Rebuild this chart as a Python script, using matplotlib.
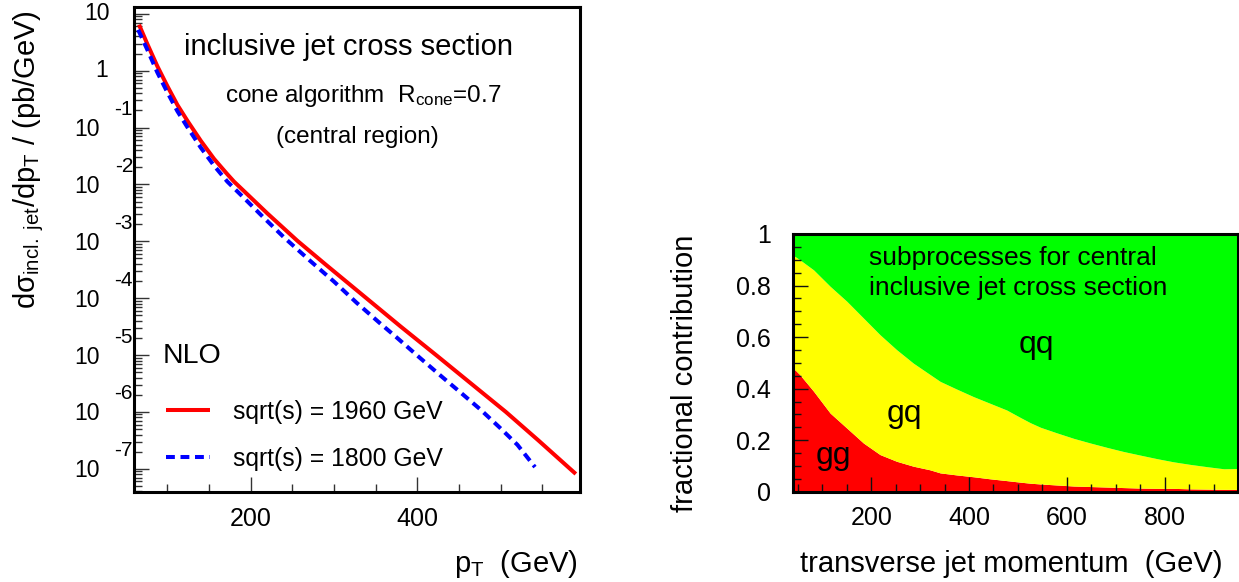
import matplotlib
matplotlib.use("Agg")
import matplotlib.pyplot as plt
import numpy as np
from matplotlib import transforms
from matplotlib.ticker import (MultipleLocator, LogLocator, NullFormatter,
                               FuncFormatter)

plt.rcParams['font.family'] = ['Liberation Sans', 'DejaVu Sans']
plt.rcParams['mathtext.fontset'] = 'custom'
plt.rcParams['mathtext.rm'] = 'Liberation Sans'
plt.rcParams['mathtext.it'] = 'Liberation Sans:italic'
plt.rcParams['mathtext.bf'] = 'Liberation Sans:bold'

# ---- inclusive jet cross section, NLO (pb/GeV) ----
pt_1960 = [66, 76, 88, 100, 112, 124, 140, 156, 172, 180, 200, 220, 256,
           290, 338, 380, 424, 465, 506, 545, 583, 590]
xsec_1960 = [6.46, 2.95, 1.20, 0.537, 0.251, 0.132, 0.0589, 0.0282, 0.0151,
             0.0112, 5.89e-3, 3.09e-3, 1.02e-3, 3.89e-4, 1.02e-4, 3.16e-5,
             9.55e-6, 3.09e-6, 1.0e-6, 3.16e-7, 1.0e-7, 8.1e-8]

pt_1800 = [65, 76, 88, 100, 112, 124, 140, 156, 172, 190, 215, 240, 271,
           300, 327, 355, 375, 403, 430, 451, 475, 499, 520, 541]
xsec_1800 = [5.25, 2.34, 0.933, 0.417, 0.195, 0.102, 0.0447, 0.0214, 0.0112,
             6.17e-3, 2.66e-3, 1.17e-3, 4.57e-4, 1.95e-4, 8.32e-5, 3.63e-5,
             2.04e-5, 8.91e-6, 4.07e-6, 2.24e-6, 1.12e-6, 5.25e-7, 2.63e-7,
             1.07e-7]

series_labels = ['sqrt(s) = 1960 GeV', 'sqrt(s) = 1800 GeV']
y_decades = [1, 0, -1, -2, -3, -4, -5, -6, -7]

# ---- subprocess fractions vs transverse jet momentum ----
frac_pt = [40, 44, 54, 82, 116, 150, 184, 218, 252, 286, 320, 341, 375, 409,
           443, 477, 505, 525, 546, 580, 614, 648, 682, 716, 750, 785, 818,
           852, 887, 921, 950]
frac_gg = [0.473, 0.473, 0.454, 0.39, 0.305, 0.247, 0.189, 0.144, 0.118,
           0.099, 0.085, 0.073, 0.065, 0.058, 0.050, 0.043, 0.037, 0.033,
           0.030, 0.026, 0.022, 0.020, 0.018, 0.016, 0.014, 0.013, 0.013,
           0.011, 0.010, 0.009, 0.009]
frac_gq = [0.442, 0.440, 0.446, 0.471, 0.492, 0.492, 0.485, 0.465, 0.433,
           0.400, 0.370, 0.355, 0.333, 0.311, 0.293, 0.274, 0.251, 0.235,
           0.220, 0.202, 0.185, 0.169, 0.154, 0.140, 0.128, 0.115, 0.103,
           0.095, 0.087, 0.080, 0.081]

W, H = 1239, 582
fig = plt.figure(figsize=(W / 100, H / 100), dpi=100)


def fx(px):
    return px / W


def fy(py):
    return 1 - py / H


FRAME_LW = 2.2

# ================= left panel =================
axL = fig.add_axes([fx(134), fy(492), (580 - 134) / W, (492 - 7) / H])
l1, = axL.plot(pt_1960, xsec_1960, color='#ff0000', lw=2.9,
               solid_capstyle='butt', solid_joinstyle='round')
l2, = axL.plot(pt_1800, xsec_1800, color='#0000ff', lw=2.9,
               dashes=(2.2, 1.4))
axL.set_yscale('log')
axL.set_xlim(60, 595)
axL.set_ylim(3.9e-8, 13.2)
axL.xaxis.set_major_locator(MultipleLocator(200))
axL.xaxis.set_minor_locator(MultipleLocator(50))
axL.yaxis.set_major_locator(LogLocator(base=10, numticks=30))
axL.yaxis.set_minor_locator(LogLocator(base=10, subs=np.arange(2, 10),
                                       numticks=30))
axL.yaxis.set_major_formatter(NullFormatter())
axL.yaxis.set_minor_formatter(NullFormatter())
axL.tick_params(which='both', direction='in', top=False, right=False,
                width=1.0, color='#333333')
axL.tick_params(which='major', length=10.5)
axL.tick_params(which='minor', length=5.5)
axL.tick_params(axis='x', labelsize=18, pad=10.5)
for s in axL.spines.values():
    s.set_linewidth(FRAME_LW)

# ROOT-style decade labels: mantissa with raised exponent
ytr = transforms.blended_transform_factory(fig.transFigure, axL.transData)
tr_m = transforms.offset_copy(ytr, fig=fig, y=-2, units='dots')
tr_e = transforms.offset_copy(ytr, fig=fig, y=18, units='dots')
for e in y_decades:
    v = 10.0 ** e
    if e == 1:
        axL.text(fx(110), v, '10', transform=ytr, ha='right', va='center',
                 fontsize=16.5)
    elif e == 0:
        axL.text(fx(108), v, '1', transform=ytr, ha='right', va='center',
                 fontsize=16.5)
    else:
        axL.text(fx(100), v, '10', transform=tr_m, ha='right', va='center',
                 fontsize=16.5)
        axL.text(fx(133), v, str(e), transform=tr_e, ha='right',
                 va='center', fontsize=15)

axL.text(0.482, 0.901, 'inclusive jet cross section', transform=axL.transAxes,
         ha='center', va='baseline', fontsize=21)
axL.text(0.204, 0.805, r'cone algorithm  R$_{\rm cone}$=0.7',
         transform=axL.transAxes, ha='left', va='baseline', fontsize=17.5)
axL.text(0.501, 0.719, '(central region)', transform=axL.transAxes,
         ha='center', va='baseline', fontsize=17.5)
axL.text(0.065, 0.265, 'NLO', transform=axL.transAxes, ha='left',
         va='baseline', fontsize=20.5)

leg = axL.legend([l1, l2], series_labels, loc='upper left',
                 bbox_to_anchor=(0.0717, 0.19), frameon=False,
                 fontsize=17.8, handlelength=1.78, handletextpad=0.93,
                 labelspacing=0.93, borderpad=0, borderaxespad=0)

fig.text(fx(29), fy(10),
         'd\u03c3$_{\\rm incl.\\ jet}$/dp$_{\\rm T}$ / (pb/GeV)',
         rotation=90, ha='center', va='top', fontsize=21)
fig.text(fx(578), fy(572), r'p$_{\rm T}$  (GeV)', ha='right',
         va='baseline', fontsize=21)

# ================= right panel =================
axR = fig.add_axes([fx(793), fy(491.7), (1238 - 793) / W,
                    (491.7 - 234) / H])
gg = np.array(frac_gg)
gq = np.array(frac_gq)
axR.fill_between(frac_pt, 0, gg, color='#ff0000', lw=0)
axR.fill_between(frac_pt, gg, gg + gq, color='#ffff00', lw=0)
axR.fill_between(frac_pt, gg + gq, 1, color='#00ff00', lw=0)
axR.set_xlim(40, 950)
axR.set_ylim(0, 1)
axR.xaxis.set_major_locator(MultipleLocator(200))
axR.xaxis.set_minor_locator(MultipleLocator(50))
axR.yaxis.set_major_locator(MultipleLocator(0.2))
axR.yaxis.set_minor_locator(MultipleLocator(0.05))
axR.yaxis.set_major_formatter(FuncFormatter(lambda v, p: '%g' % round(v, 2)))
axR.tick_params(which='both', direction='in', top=False, right=False,
                width=1.0, color='#111111')
axR.tick_params(which='major', length=10.5)
axR.tick_params(which='minor', length=5.5)
axR.tick_params(axis='x', labelsize=18, pad=10.5)
axR.tick_params(axis='y', labelsize=18, pad=16)
for s in axR.spines.values():
    s.set_linewidth(FRAME_LW)
    s.set_zorder(5)

axR.text(195.6, 0.88, 'subprocesses for central', ha='left',
         va='baseline', fontsize=19)
axR.text(195.6, 0.763, 'inclusive jet cross section', ha='left',
         va='baseline', fontsize=19)
axR.text(537, 0.539, 'qq', ha='center', va='baseline', fontsize=23)
axR.text(267, 0.272, 'gq', ha='center', va='baseline', fontsize=23)
axR.text(122, 0.106, 'gg', ha='center', va='baseline', fontsize=23)

fig.text(fx(685), fy(235), 'fractional contribution', rotation=90,
         ha='center', va='top', fontsize=21)
fig.text(fx(1223), fy(572), 'transverse jet momentum  (GeV)', ha='right',
         va='baseline', fontsize=21)

fig.savefig('out.png', dpi=100)
